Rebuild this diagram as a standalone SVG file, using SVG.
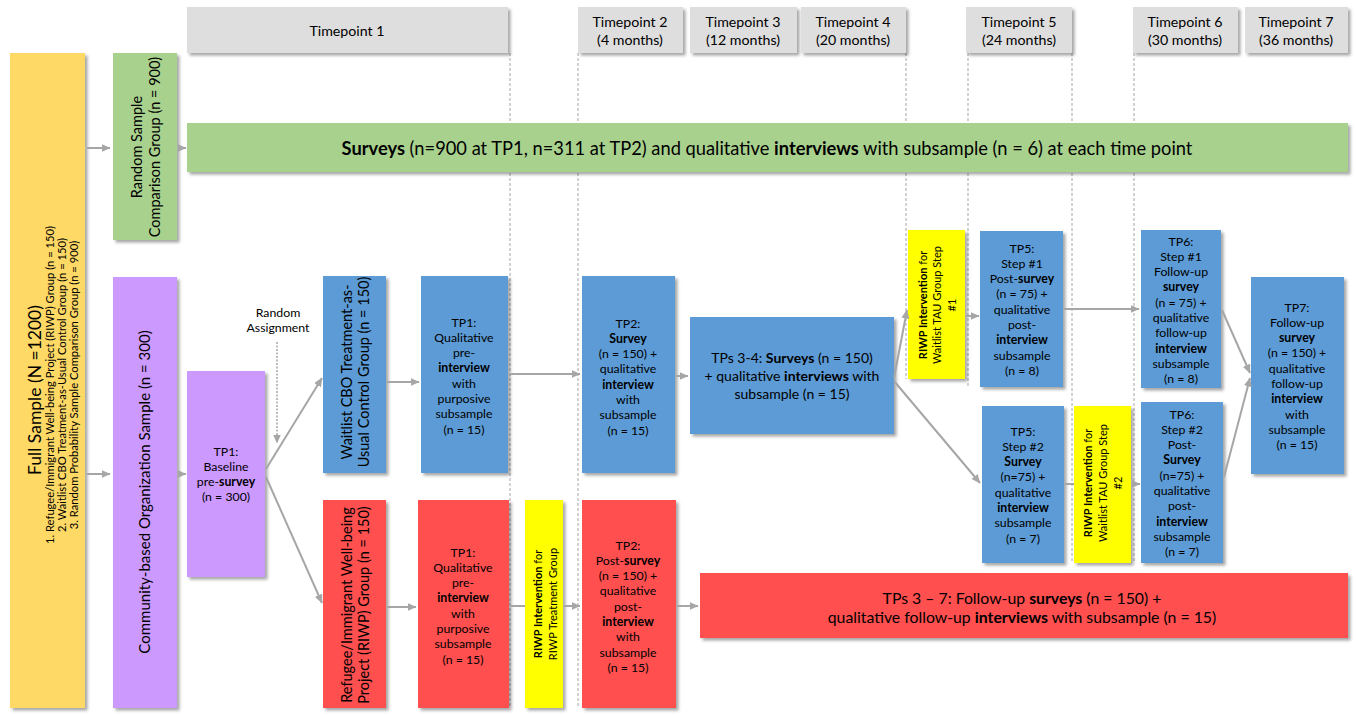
<svg xmlns="http://www.w3.org/2000/svg" width="1356" height="715" viewBox="0 0 1356 715">
<defs>
<filter id="sh" x="-10%" y="-10%" width="130%" height="130%">
<feDropShadow dx="2.5" dy="2.5" stdDeviation="1.5" flood-color="#000" flood-opacity="0.35"/>
</filter>
<marker id="ah" markerWidth="9" markerHeight="8" refX="8.5" refY="4" orient="auto" markerUnits="userSpaceOnUse">
<path d="M0,0 L9,4 L0,8 z" fill="#A6A6A6"/>
</marker>
</defs>
<style>
text{font-family:Lato,"Liberation Sans",sans-serif;fill:#000;}
.t{font-size:12.3px;text-anchor:middle;}
.h{font-size:14.2px;text-anchor:middle;}
.r{font-size:14.5px;text-anchor:middle;}
.y{font-size:11px;text-anchor:middle;}
.b{font-weight:bold;}
.hdr{fill:#DEDEDE;filter:url(#sh);}
.blue{fill:#5B9BD5;filter:url(#sh);}
.red{fill:#FF5050;filter:url(#sh);}
.grn{fill:#A9D18E;filter:url(#sh);}
.pur{fill:#CC99FF;filter:url(#sh);}
.yel{fill:#FFFF00;filter:url(#sh);}
.gold{fill:#FFD966;filter:url(#sh);}
.dash{stroke:#A6A6A6;stroke-width:1;stroke-dasharray:3,2;fill:none;}
.c{stroke:#A6A6A6;stroke-width:2;fill:none;}
.ca{stroke:#A6A6A6;stroke-width:2;fill:none;marker-end:url(#ah);}
</style>

<g id="gridlines">
<line class="dash" x1="510" y1="53" x2="510" y2="708"/>
<line class="dash" x1="578" y1="53" x2="578" y2="708"/>
<line class="dash" x1="906" y1="53" x2="906" y2="379"/>
<line class="dash" x1="968" y1="53" x2="968" y2="387"/>
<line class="dash" x1="1072" y1="53" x2="1072" y2="563"/>
<line class="dash" x1="1134" y1="53" x2="1134" y2="563"/>
</g>

<g id="header-tp1"><rect class="hdr" x="187" y="7" width="321" height="46"/><text class="h" x="347" y="36">Timepoint 1</text></g>
<g id="header-tp2"><rect class="hdr" x="578" y="7" width="105" height="46"/><text class="h" x="630" y="27">Timepoint 2</text><text class="h" x="630" y="45">(4 months)</text></g>
<g id="header-tp3"><rect class="hdr" x="690" y="7" width="107" height="46"/><text class="h" x="743" y="27">Timepoint 3</text><text class="h" x="743" y="45">(12 months)</text></g>
<g id="header-tp4"><rect class="hdr" x="801" y="7" width="105" height="46"/><text class="h" x="853" y="27">Timepoint 4</text><text class="h" x="853" y="45">(20 months)</text></g>
<g id="header-tp5"><rect class="hdr" x="966" y="7" width="106" height="46"/><text class="h" x="1019" y="27">Timepoint 5</text><text class="h" x="1019" y="45">(24 months)</text></g>
<g id="header-tp6"><rect class="hdr" x="1133" y="7" width="105" height="46"/><text class="h" x="1185" y="27">Timepoint 6</text><text class="h" x="1185" y="45">(30 months)</text></g>
<g id="header-tp7"><rect class="hdr" x="1245" y="7" width="103" height="46"/><text class="h" x="1296" y="27">Timepoint 7</text><text class="h" x="1296" y="45">(36 months)</text></g>

<g id="full-sample">
<rect class="gold" x="10" y="53" width="75" height="655"/>
<text transform="translate(41,390) rotate(-90)" style="font-size:17.5px;text-anchor:middle">Full Sample (N =1200)</text>
<text transform="translate(54,385) rotate(-90)" style="font-size:11.2px;text-anchor:middle">1. Refugee/Immigrant Well-being Project (RIWP) Group (n = 150)</text>
<text transform="translate(66,385) rotate(-90)" style="font-size:11.2px;text-anchor:middle">2. Waitlist CBO Treatment-as-Usual Control Group (n = 150)</text>
<text transform="translate(78,385) rotate(-90)" style="font-size:11.2px;text-anchor:middle">3. Random Probability Sample Comparison Group (n = 900)</text>
</g>

<g id="random-sample">
<rect class="grn" x="113" y="53" width="64" height="187"/>
<text class="r" transform="translate(142,147) rotate(-90)">Random Sample</text>
<text class="r" transform="translate(160,147) rotate(-90)">Comparison Group (n = 900)</text>
</g>

<g id="surveys-bar">
<rect class="grn" x="187" y="123" width="1161" height="49"/>
<text x="767" y="154.5" style="font-size:18.3px;text-anchor:middle"><tspan class="b">Surveys</tspan> (n=900 at TP1, n=311 at TP2) and qualitative <tspan class="b">interviews</tspan> with subsample (n = 6) at each time point</text>
</g>

<g id="cbo-sample">
<rect class="pur" x="113" y="277" width="64" height="431"/>
<text transform="translate(150,492) rotate(-90)" style="font-size:15px;text-anchor:middle">Community-based Organization Sample (n = 300)</text>
</g>

<g id="baseline">
<rect class="pur" x="187" y="371" width="78" height="206"/>
<text class="t" x="226" y="456">TP1:</text>
<text class="t" x="226" y="471">Baseline</text>
<text class="t" x="226" y="486">pre-<tspan class="b">survey</tspan></text>
<text class="t" x="226" y="501">(n = 300)</text>
</g>

<g id="random-assignment">
<text x="278" y="317" style="font-size:12.3px;text-anchor:middle">Random</text>
<text x="278" y="332" style="font-size:12.3px;text-anchor:middle">Assignment</text>
</g>

<g id="waitlist-group">
<rect class="blue" x="323" y="276" width="63" height="197"/>
<text class="r" transform="translate(352,372) rotate(-90)">Waitlist CBO Treatment-as-</text>
<text class="r" transform="translate(368.5,372) rotate(-90)">Usual Control Group (n = 150)</text>
</g>

<g id="tp1-waitlist-interview">
<rect class="blue" x="421" y="276" width="87" height="197"/>
<text class="t" x="464" y="326.5">TP1:</text>
<text class="t" x="464" y="341.8">Qualitative</text>
<text class="t" x="464" y="357.1">pre-</text>
<text class="t b" x="464" y="372.4">interview</text>
<text class="t" x="464" y="387.7">with</text>
<text class="t" x="464" y="403">purposive</text>
<text class="t" x="464" y="418.3">subsample</text>
<text class="t" x="464" y="433.6">(n = 15)</text>
</g>

<g id="riwp-group">
<rect class="red" x="323" y="500" width="63" height="208"/>
<text class="r" transform="translate(352,605) rotate(-90)">Refugee/Immigrant Well-being</text>
<text class="r" transform="translate(368.5,605) rotate(-90)">Project (RIWP) Group (n = 150)</text>
</g>

<g id="tp1-riwp-interview">
<rect class="red" x="418" y="500" width="91" height="208"/>
<text class="t" x="463" y="556.5">TP1:</text>
<text class="t" x="463" y="571.8">Qualitative</text>
<text class="t" x="463" y="587.1">pre-</text>
<text class="t b" x="463" y="602.4">interview</text>
<text class="t" x="463" y="617.7">with</text>
<text class="t" x="463" y="633">purposive</text>
<text class="t" x="463" y="648.3">subsample</text>
<text class="t" x="463" y="663.6">(n = 15)</text>
</g>

<g id="riwp-intervention-treatment">
<rect class="yel" x="525" y="500" width="38" height="208"/>
<text class="y" transform="translate(541.5,604) rotate(-90)"><tspan class="b">RIWP Intervention</tspan> for</text>
<text class="y" transform="translate(556.5,604) rotate(-90)">RIWP Treatment Group</text>
</g>

<g id="tp2-riwp">
<rect class="red" x="582" y="500" width="94" height="208"/>
<text class="t" x="628" y="549.5">TP2:</text>
<text class="t" x="628" y="564.8">Post-<tspan class="b">survey</tspan></text>
<text class="t" x="628" y="580.1">(n = 150)  +</text>
<text class="t" x="628" y="595.4">qualitative</text>
<text class="t" x="628" y="610.7">post-</text>
<text class="t b" x="628" y="626">interview</text>
<text class="t" x="628" y="641.3">with</text>
<text class="t" x="628" y="656.6">subsample</text>
<text class="t" x="628" y="671.9">(n = 15)</text>
</g>

<g id="tps3-7-riwp">
<rect class="red" x="700" y="573" width="648" height="65"/>
<text x="1022" y="603.5" style="font-size:15.8px;text-anchor:middle">TPs 3 – 7: Follow-up <tspan class="b">surveys</tspan> (n = 150) +</text>
<text x="1022" y="622.5" style="font-size:15.8px;text-anchor:middle">qualitative follow-up <tspan class="b">interviews</tspan> with subsample (n = 15)</text>
</g>

<g id="tp2-waitlist">
<rect class="blue" x="582" y="276" width="93" height="197"/>
<text class="t" x="628" y="327.5">TP2:</text>
<text class="t b" x="628" y="342.8">Survey</text>
<text class="t" x="628" y="358.1">(n = 150)  +</text>
<text class="t" x="628" y="373.4">qualitative</text>
<text class="t b" x="628" y="388.7">interview</text>
<text class="t" x="628" y="404">with</text>
<text class="t" x="628" y="419.3">subsample</text>
<text class="t" x="628" y="434.6">(n = 15)</text>
</g>

<g id="tps3-4-waitlist">
<rect class="blue" x="690" y="317" width="204" height="117"/>
<text x="792" y="363" style="font-size:14px;text-anchor:middle">TPs 3-4: <tspan class="b">Surveys</tspan> (n = 150)</text>
<text x="792" y="381" style="font-size:14px;text-anchor:middle">+ qualitative <tspan class="b">interviews</tspan> with</text>
<text x="792" y="399" style="font-size:14px;text-anchor:middle">subsample (n = 15)</text>
</g>

<g id="riwp-intervention-step1">
<rect class="yel" x="908" y="230" width="57" height="149"/>
<text class="y" transform="translate(927,305) rotate(-90)"><tspan class="b">RIWP Intervention</tspan> for</text>
<text class="y" transform="translate(941,305) rotate(-90)">Waitlist TAU Group Step</text>
<text class="y" transform="translate(955.5,305) rotate(-90)">#1</text>
</g>

<g id="tp5-step1">
<rect class="blue" x="980" y="231" width="83" height="156"/>
<text class="t" x="1022" y="252.5">TP5:</text>
<text class="t" x="1022" y="267.8">Step #1</text>
<text class="t" x="1022" y="283.1">Post-<tspan class="b">survey</tspan></text>
<text class="t" x="1022" y="298.4">(n = 75)  +</text>
<text class="t" x="1022" y="313.7">qualitative</text>
<text class="t" x="1022" y="329">post-</text>
<text class="t b" x="1022" y="344.3">interview</text>
<text class="t" x="1022" y="359.6">subsample</text>
<text class="t" x="1022" y="374.9">(n = 8)</text>
</g>

<g id="tp6-step1">
<rect class="blue" x="1141" y="230" width="80" height="158"/>
<text class="t" x="1181" y="245.5">TP6:</text>
<text class="t" x="1181" y="260.8">Step #1</text>
<text class="t" x="1181" y="276.1">Follow-up</text>
<text class="t b" x="1181" y="291.4">survey</text>
<text class="t" x="1181" y="306.7">(n = 75)  +</text>
<text class="t" x="1181" y="322">qualitative</text>
<text class="t" x="1181" y="337.3">follow-up</text>
<text class="t b" x="1181" y="352.6">interview</text>
<text class="t" x="1181" y="367.9">subsample</text>
<text class="t" x="1181" y="383.2">(n = 8)</text>
</g>

<g id="tp7">
<rect class="blue" x="1251" y="277" width="93" height="197"/>
<text class="t" x="1297" y="311.5">TP7:</text>
<text class="t" x="1297" y="326.8">Follow-up</text>
<text class="t b" x="1297" y="342.1">survey</text>
<text class="t" x="1297" y="357.4">(n = 150)  +</text>
<text class="t" x="1297" y="372.7">qualitative</text>
<text class="t" x="1297" y="388">follow-up</text>
<text class="t b" x="1297" y="403.3">interview</text>
<text class="t" x="1297" y="418.6">with</text>
<text class="t" x="1297" y="433.9">subsample</text>
<text class="t" x="1297" y="449.2">(n = 15)</text>
</g>

<g id="tp5-step2">
<rect class="blue" x="982" y="406" width="82" height="157"/>
<text class="t" x="1023" y="435.5">TP5:</text>
<text class="t" x="1023" y="450.8">Step #2</text>
<text class="t b" x="1023" y="466.1">Survey</text>
<text class="t" x="1023" y="481.4">(n=75) +</text>
<text class="t" x="1023" y="496.7">qualitative</text>
<text class="t b" x="1023" y="512">interview</text>
<text class="t" x="1023" y="527.3">subsample</text>
<text class="t" x="1023" y="542.6">(n = 7)</text>
</g>

<g id="riwp-intervention-step2">
<rect class="yel" x="1074" y="406" width="57" height="157"/>
<text class="y" transform="translate(1092,483) rotate(-90)"><tspan class="b">RIWP Intervention</tspan> for</text>
<text class="y" transform="translate(1106.5,483) rotate(-90)">Waitlist TAU Group Step</text>
<text class="y" transform="translate(1121.5,483) rotate(-90)">#2</text>
</g>

<g id="tp6-step2">
<rect class="blue" x="1141" y="402" width="82" height="161"/>
<text class="t" x="1182" y="418.5">TP6:</text>
<text class="t" x="1182" y="433.8">Step #2</text>
<text class="t" x="1182" y="449.1">Post-</text>
<text class="t b" x="1182" y="464.4">Survey</text>
<text class="t" x="1182" y="479.7">(n=75) +</text>
<text class="t" x="1182" y="495">qualitative</text>
<text class="t" x="1182" y="510.3">post-</text>
<text class="t b" x="1182" y="525.6">interview</text>
<text class="t" x="1182" y="540.9">subsample</text>
<text class="t" x="1182" y="556.2">(n = 7)</text>
</g>

<g id="connectors">
<line class="ca" x1="87" y1="148" x2="110" y2="148"/>
<line class="ca" x1="87" y1="474" x2="110" y2="474"/>
<line class="ca" x1="179" y1="148" x2="186" y2="148"/>
<line class="ca" x1="179" y1="474" x2="186" y2="474"/>
<line class="ca" x1="266" y1="469" x2="322" y2="378"/>
<line class="ca" x1="266" y1="477" x2="322" y2="603"/>
<line x1="277" y1="342" x2="277" y2="443" style="stroke:#A6A6A6;stroke-width:1.5;stroke-dasharray:2,1.5;marker-end:url(#ah)"/>
<line class="ca" x1="387" y1="382" x2="419" y2="382"/>
<line class="ca" x1="387" y1="607" x2="416" y2="607"/>
<line class="ca" x1="509" y1="374" x2="580" y2="374"/>
<line class="c" x1="510" y1="606" x2="525" y2="606"/>
<line class="ca" x1="564" y1="606" x2="580" y2="606"/>
<line class="ca" x1="677" y1="606" x2="698" y2="606"/>
<line class="ca" x1="676" y1="376" x2="688" y2="376"/>
<line class="ca" x1="894" y1="378" x2="907" y2="310"/>
<line class="ca" x1="894" y1="381" x2="980" y2="483"/>
<line class="ca" x1="966" y1="316" x2="979" y2="316"/>
<line class="ca" x1="1064" y1="309" x2="1139" y2="309"/>
<line class="c" x1="1065" y1="484" x2="1074" y2="484"/>
<line class="ca" x1="1132" y1="484" x2="1140" y2="484"/>
<line class="ca" x1="1222" y1="310" x2="1250" y2="373"/>
<line class="ca" x1="1224" y1="477" x2="1250" y2="378"/>
</g>
</svg>
